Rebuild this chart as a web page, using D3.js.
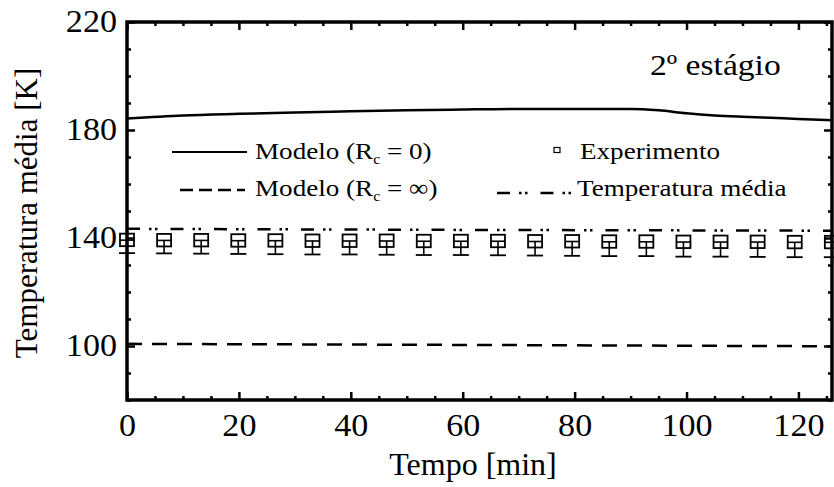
<!DOCTYPE html>
<html><head><meta charset="utf-8">
<script src="https://cdn.jsdelivr.net/npm/d3@7"></script>
<style>
body{margin:0;background:#fff;}
svg{display:block;}
text{font-family:"Liberation Serif","Times New Roman",serif;fill:#000;}
</style></head>
<body><svg id="chart" width="834" height="487"></svg>
<script>
// ---- data ----
const modelR0_t   = [0,10,20,30,40,50,60,70,80,90,95,100,105,110,115,120,126];
const modelR0_v   = [184.3,185.4,186.0,186.5,186.9,187.3,187.6,187.8,187.8,187.8,187.3,186.2,185.4,184.9,184.5,184.1,183.6];
const modelInf_t  = [0,60,126];
const modelInf_v  = [100.8,100.4,99.9];
const mean_t      = [0,60,126];
const mean_v      = [143.4,143.0,142.7];
const exp_t       = [0,6.63,13.26,19.89,26.52,33.15,39.78,46.41,53.04,59.67,66.3,72.93,79.56,86.19,92.82,99.45,106.08,112.71,119.34,125.97];
const exp_v       = [139.2,139.1,139.1,139.0,139.0,138.9,138.9,138.9,138.8,138.8,138.8,138.7,138.7,138.6,138.6,138.5,138.5,138.5,138.4,138.4];
const exp_errLow  = [4.8,4.8,4.9,4.9,5.0,5.0,5.0,5.1,5.1,5.1,5.2,5.2,5.3,5.3,5.3,5.4,5.4,5.5,5.5,5.5];
const xTicks      = [0,20,40,60,80,100,120];
const yTicks      = [100,140,180,220];
const legendLabels = ["Modelo (R", "Modelo (R", "Experimento", "Temperatura média"];

// ---- layout ----
const W = 834, H = 487;
const m = {left:127, top:22, right:2, bottom:87};
const svg = d3.select("#chart");
const x = d3.scaleLinear().domain([0,126]).range([m.left, W - m.right]);
const y = d3.scaleLinear().domain([80,220]).range([H - m.bottom, m.top]);
const iw = W - m.left - m.right, ih = H - m.top - m.bottom;

function stretch(sel, s){
  sel.each(function(){
    const el = d3.select(this);
    const xx = +el.attr("x") || 0;
    const prev = el.attr("transform") || "";
    el.attr("transform", `${prev} translate(${xx},0) scale(${s},1) translate(${-xx},0)`);
  });
}

// minor ticks
const xMinor = d3.range(0,127,5).filter(v => v % 20 !== 0);
const yMinor = d3.range(80,221,10).filter(v => !yTicks.includes(v));

function styleAxis(g){
  g.select(".domain").remove();
  g.selectAll(".tick line").attr("stroke","#000").attr("stroke-width",2.5);
}
// bottom
svg.append("g").attr("transform",`translate(0,${y(80)})`)
  .call(d3.axisBottom(x).tickValues(xTicks).tickSizeInner(-8).tickSizeOuter(0).tickPadding(14).tickFormat(d3.format("d")))
  .call(styleAxis).call(g=>{g.selectAll("text").attr("font-size",31); stretch(g.selectAll("text"),1.1);});
svg.append("g").attr("transform",`translate(0,${y(80)})`)
  .call(d3.axisBottom(x).tickValues(xMinor).tickSizeInner(-4).tickSizeOuter(0).tickFormat(""))
  .call(styleAxis);
// top
svg.append("g").attr("transform",`translate(0,${y(220)})`)
  .call(d3.axisTop(x).tickValues(xTicks).tickSizeInner(-8).tickSizeOuter(0).tickFormat(""))
  .call(styleAxis);
svg.append("g").attr("transform",`translate(0,${y(220)})`)
  .call(d3.axisTop(x).tickValues(xMinor).tickSizeInner(-4).tickSizeOuter(0).tickFormat(""))
  .call(styleAxis);
// left
svg.append("g").attr("transform",`translate(${x(0)},0)`)
  .call(d3.axisLeft(y).tickValues(yTicks).tickSizeInner(-8).tickSizeOuter(0).tickPadding(10).tickFormat(d3.format("d")))
  .call(styleAxis).call(g=>{g.selectAll("text").attr("font-size",31); stretch(g.selectAll("text"),1.1);});
svg.append("g").attr("transform",`translate(${x(0)},0)`)
  .call(d3.axisLeft(y).tickValues(yMinor).tickSizeInner(-4).tickSizeOuter(0).tickFormat(""))
  .call(styleAxis);
// right
svg.append("g").attr("transform",`translate(${x(126)},0)`)
  .call(d3.axisRight(y).tickValues(yTicks).tickSizeInner(-8).tickSizeOuter(0).tickFormat(""))
  .call(styleAxis);
svg.append("g").attr("transform",`translate(${x(126)},0)`)
  .call(d3.axisRight(y).tickValues(yMinor).tickSizeInner(-4).tickSizeOuter(0).tickFormat(""))
  .call(styleAxis);

// frame
svg.append("rect").attr("x",m.left).attr("y",m.top).attr("width",iw).attr("height",ih)
  .attr("fill","none").attr("stroke","#000").attr("stroke-width",3.5);

// lines
svg.append("path").datum(d3.zip(modelR0_t, modelR0_v))
  .attr("d", d3.line().x(d=>x(d[0])).y(d=>y(d[1])).curve(d3.curveMonotoneX))
  .attr("fill","none").attr("stroke","#000").attr("stroke-width",2.5);
svg.append("path").datum(d3.zip(modelInf_t, modelInf_v)).attr("d", d3.line().x(d=>x(d[0])).y(d=>y(d[1])))
  .attr("fill","none").attr("stroke","#000").attr("stroke-width",2.5).attr("stroke-dasharray","15,10");
svg.append("path").datum(d3.zip(mean_t, mean_v)).attr("d", d3.line().x(d=>x(d[0])).y(d=>y(d[1])))
  .attr("fill","none").attr("stroke","#000").attr("stroke-width",2.5).attr("stroke-dasharray","13,9,2.5,3.5,2.5,13");

// experiment points with error bars
const expData = exp_t.map((t,i)=>({t, v:exp_v[i], e:exp_errLow[i]}));
const eg = svg.append("g").attr("stroke","#000").attr("fill","none");
expData.forEach(d=>{
  const cx = x(d.t), cy = y(d.v), by = y(d.v - d.e);
  eg.append("line").attr("x1",cx).attr("x2",cx).attr("y1",cy).attr("y2",by).attr("stroke-width",1.6);
  eg.append("line").attr("x1",cx-7).attr("x2",cx+7).attr("y1",cy).attr("y2",cy).attr("stroke-width",1.6);
  eg.append("line").attr("x1",cx-8).attr("x2",cx+8).attr("y1",by).attr("y2",by).attr("stroke-width",1.8);
  eg.append("rect").attr("x",cx-7).attr("y",cy-6.5).attr("width",14).attr("height",12.5).attr("stroke-width",1.8);
});

// legend
svg.append("line").attr("x1",172).attr("x2",247).attr("y1",152).attr("y2",152)
  .attr("stroke","#000").attr("stroke-width",2.2);
svg.append("line").attr("x1",180).attr("x2",245).attr("y1",190).attr("y2",190)
  .attr("stroke","#000").attr("stroke-width",2.5).attr("stroke-dasharray","13,6");
svg.append("rect").attr("x",554).attr("y",147.5).attr("width",6).attr("height",5)
  .attr("fill","none").attr("stroke","#000").attr("stroke-width",1.2);
svg.append("line").attr("x1",497).attr("x2",575).attr("y1",193).attr("y2",193)
  .attr("stroke","#000").attr("stroke-width",2.5).attr("stroke-dasharray","13,9,2.5,3.5,2.5,13");

function legText(xp, yp, base, sub, rest){
  const t = svg.append("text").attr("x",xp).attr("y",yp).attr("font-size",24);
  t.append("tspan").text(base);
  if(sub){
    t.append("tspan").attr("font-size",14).attr("dy",5).text(sub);
    t.append("tspan").attr("dy",-5).text(rest);
  }
  stretch(t, 1.13);
  return t;
}
legText(255,159,legendLabels[0],"c"," = 0)");
legText(255,196,legendLabels[1],"c"," = ∞)");
legText(580,159,legendLabels[2]);
legText(577,196,legendLabels[3]);

// annotation
stretch(svg.append("text").attr("x",650).attr("y",75).attr("font-size",30).text("2º estágio"), 1.12);

// axis titles
svg.append("text").attr("x",473).attr("y",475).attr("text-anchor","middle").attr("font-size",32).text("Tempo [min]");
svg.append("text").attr("transform","translate(37,213) rotate(-90)").attr("text-anchor","middle").attr("font-size",31).text("Temperatura média [K]");
</script></body></html>
